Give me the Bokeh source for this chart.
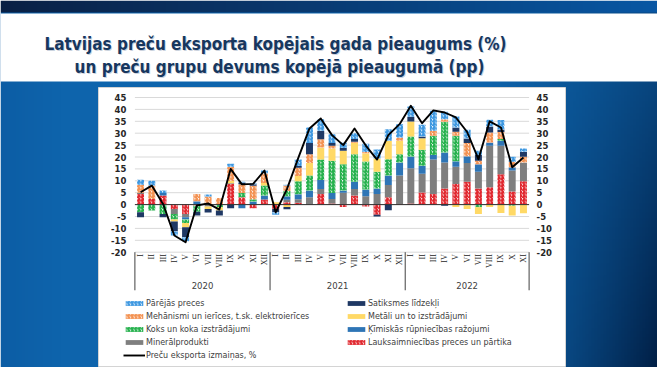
import numpy as np
from bokeh.plotting import figure
from bokeh.models import Range1d, Legend, LegendItem
from bokeh.core.properties import value
from bokeh.embed import file_html
from bokeh.resources import INLINE

# ---------------- data ----------------
years = ["2020", "2021", "2022"]
months_per_year = [12, 12, 11]
roman = ["I", "II", "III", "IV", "V", "VI", "VII", "VIII", "IX", "X", "XI", "XII"]

# contributions (pp), bottom-up stacking order
lauks = [4.5, 2.4, 3.8, -1.8, -3.9, -0.5, 0, 0, 8.7, 3.1, -1.5, 2.1,
         -1.8, 1.0, 0.8, 0, 4.5, 0.5, -1.0, 3.8, -0.8, -4.3, 3.1, 0.3,
         0.5, 5.1, 4.5, 6.8, 8.7, 9.6, 6.8, 7.3, 12.8, 5.5, 9.8]
miner = [0.5, 0, 0, -2.1, -1.4, 0, -0.8, 0, 0.3, 0, 0, 0,
         0, 1.0, 1.4, 3.1, 2.1, 1.9, 5.0, 2.8, 3.5, 4.5, 5.1, 11.9,
         14.8, 7.9, 14.4, 10.9, 7.2, 7.9, 7.0, 17.4, 11.9, 8.8, 7.9]
kim = [0, 0, 1.1, 0, -1.0, 1.4, 0, 0, 0, -1.5, 1.3, 1.7,
       0, 1.5, 2.1, 2.8, 3.7, 2.5, 0.9, 3.0, 2.8, 2.3, 4.0, 5.5,
       4.9, 3.3, 1.9, 4.2, 2.3, 2.8, 3.2, 1.4, 2.1, 1.4, 0]
koks = [-3.2, -2.5, -3.9, -2.4, -1.4, -2.5, 0, -1.1, 0, 1.8, 1.0, 4.2,
        0, 2.2, 5.5, 6.3, 8.6, 13.5, 11.1, 11.6, 11.8, 7.0, 6.9, 3.5,
        8.4, 6.7, 8.1, 12.9, 10.7, -0.3, -1.1, 0, 0.8, -0.5, 0]
metali = [0, 0, 0, -0.8, -1.8, 0, -1.0, -1.4, 0.9, 0, 0, 1.1,
          1.0, -1.0, 2.2, 5.3, 5.1, 5.2, 5.6, 4.8, 3.5, 5.6, 7.7, 5.6,
          6.3, 4.9, 0, 0, -1.0, -1.6, -2.8, -1.0, -3.5, -4.1, -3.6]
mehan = [3.3, 5.6, 0, 0, 0, 3.1, 3.4, 2.8, 6.0, 3.6, 5.6, 4.1,
         0, 2.3, 3.5, 3.7, 3.5, 1.1, 0, 0.4, 0.5, 0, 0, 1.4,
         0, 0, 2.1, 1.1, 1.7, 5.6, 1.4, 4.2, 2.9, 2.3, 2.4]
satik = [-2.1, 0, -1.4, -4.2, -4.2, -1.6, -1.5, -2.1, -1.5, 0.8, 0.7, 0,
         -1.4, -1.0, 0.7, 4.7, 3.5, 1.2, 1.2, 1.2, 0, -0.7, -2.4, 0,
         2.0, 0.7, 0, -0.5, 1.8, 1.9, 2.4, 2.5, 1.1, 0, 2.1]
parejas = [2.1, 2.0, 1.0, -1.7, -1.7, 0, 0.8, 0, 1.3, 0.3, 0.4, 1.1,
           -1.1, 0.3, 2.8, 6.5, 4.9, 3.7, 2.2, 2.4, 3.5, 3.8, 4.9, 5.6,
           4.3, 4.9, 8.4, 3.1, 4.6, 3.7, 1.8, 2.8, 3.9, 2.1, 1.4]
# total export growth, %
total = [5.2, 8.0, 0.3, -13.0, -15.8, -0.4, 0.5, -2.1, 15.0, 8.5, 8.7, 14.3,
         -3.2, 6.5, 19.5, 32.0, 36.2, 29.2, 25.0, 32.0, 24.8, 18.9, 29.2, 33.8,
         41.5, 34.2, 39.6, 38.7, 36.6, 30.5, 19.1, 35.0, 32.4, 15.7, 19.8]

y_ticks = [-20, -15, -10, -5, 0, 5, 10, 15, 20, 25, 30, 35, 40, 45]

names = {
    "parejas": "Pārējās preces",
    "satik": "Satiksmes līdzekļi",
    "mehan": "Mehānismi un ierīces, t.sk. elektroierīces",
    "metali": "Metāli un to izstrādājumi",
    "koks": "Koks un koka izstrādājumi",
    "kim": "Ķīmiskās rūpniecības ražojumi",
    "miner": "Minerālprodukti",
    "lauks": "Lauksaimniecības preces un pārtika",
    "total": "Preču eksporta izmaiņas, %",
}
title1 = "Latvijas preču eksporta kopējais gada pieaugums (%)"
title2 = "un preču grupu devums kopējā pieaugumā (pp)"

# ---------------- layout helpers ----------------
W, H = 657, 367


def fx(px):
    return px


def fy(py):
    return H - py


month_labels, year_index = [], []
for yi, cnt in enumerate(months_per_year):
    month_labels += roman[:cnt]
    year_index += [yi] * cnt
n = len(month_labels)
idx = np.arange(n)

PL, PR = fx(134.4), fx(528.6)
slot = (PR - PL) / n
K = 2.38
zero_b = fy(204.1)

p = figure(width=W, height=H, x_range=Range1d(0, W), y_range=Range1d(0, H),
           x_axis_type=None, y_axis_type=None, toolbar_location=None,
           output_backend="svg", min_border=0)
p.outline_line_color = None
p.extra_x_ranges = {"m": Range1d(-0.5 - PL / slot, -0.5 + (W - PL) / slot)}
p.extra_y_ranges = {"v": Range1d(-zero_b / K, (H - zero_b) / K)}

# ---------------- background ----------------
GW, GH = 219, 123
cx = (np.arange(GW) + 0.5) * W / GW
cy = (np.arange(GH) + 0.5) * H / GH
X, Y = np.meshgrid(cx, cy)
C1 = np.array([14, 100, 172.0])
CD = np.array([0, 26, 62.0])
CL = np.array([9, 78, 148.0])
tr = np.clip((X - 470) / 195, 0, 1) ** 1.3 * (0.45 + 0.55 * np.clip((Y - 81) / 294, 0, 1))
tl = np.clip((60 - X) / 60, 0, 1) * 0.3
rgb = C1 * (1 - tr[..., None]) + CD * tr[..., None]
rgb = rgb * (1 - tl[..., None]) + CL * tl[..., None]
tt = np.clip(X / 665, 0, 1)
top_rgb = np.array([10, 32, 68.0]) * (1 - tt[..., None]) + np.array([8, 88, 165.0]) * tt[..., None]
mask = Y < 13
rgb[mask] = top_rgb[mask]
img = np.empty((GH, GW), dtype=np.uint32)
view = img.view(dtype=np.uint8).reshape((GH, GW, 4))
view[..., :3] = rgb.astype(np.uint8)
view[..., 3] = 255
img = np.ascontiguousarray(np.flipud(img))
p.image_rgba(image=[img], x=0, y=0, dw=W, dh=H, level="image")

# title band and chart box
p.quad(left=0, right=W, bottom=fy(81), top=fy(13), fill_color="white", line_color=None)
p.quad(left=fx(98), right=fx(565), bottom=fy(366), top=fy(87),
       fill_color="white", line_color="#d4d4d4", line_width=1)

# title (with a faint shadow)
for dx, dy, col, alpha in [(1, 1.5, "#8a9bb5", 0.45), (0, 0, "#17375E", 1.0)]:
    p.text(x=[fx(275) + dx, fx(279) + dx], y=[fy(43.3) - dy, fy(66) - dy], text=[title1, title2],
           text_align="center", text_baseline="alphabetic",
           text_font=value("DejaVu Sans Condensed"), text_font_style="bold",
           text_font_size="17px", text_color=col, text_alpha=alpha)

# ---------------- grid ----------------
p.segment(x0=-0.5, x1=n - 0.5, y0=y_ticks, y1=y_ticks, line_color="#d9d9d9",
          line_width=1, x_range_name="m", y_range_name="v")

# ---------------- stacked bars ----------------
order = [("lauks", lauks, "#E0242B", True),
         ("miner", miner, "#7F7F7F", False),
         ("kim", kim, "#2E75B6", False),
         ("koks", koks, "#22B04A", True),
         ("metali", metali, "#FFD966", False),
         ("mehan", mehan, "#F3904F", True),
         ("satik", satik, "#1F3864", False),
         ("parejas", parejas, "#3A96E0", True)]

pos = np.zeros(n)
neg = np.zeros(n)
rends = {}
for key, vals, col, hatched in order:
    v = np.array(vals, dtype=float)
    bottom = np.where(v >= 0, pos, neg)
    top = bottom + v
    pos = np.where(v >= 0, top, pos)
    neg = np.where(v < 0, top, neg)
    if hatched:
        r = p.vbar(x=idx, width=0.62, bottom=bottom, top=top, fill_color="white",
                   hatch_pattern="/", hatch_color=col, hatch_scale=3.6, hatch_weight=1.6,
                   line_color=None, x_range_name="m", y_range_name="v")
    else:
        r = p.vbar(x=idx, width=0.62, bottom=bottom, top=top, fill_color=col,
                   line_color=None, x_range_name="m", y_range_name="v")
    rends[key] = r

# zero line
p.segment(x0=[-0.5], x1=[n - 0.5], y0=[0], y1=[0], line_color="#303030", line_width=1,
          x_range_name="m", y_range_name="v")

# total line
rends["total"] = p.line(x=idx, y=total, line_color="black", line_width=1.9,
                        line_join="round", x_range_name="m", y_range_name="v")

# ---------------- axis texts ----------------
tick_txt = [str(t) for t in y_ticks]
p.text(x=[-0.5] * len(y_ticks), y=y_ticks, text=tick_txt, x_offset=-8.5,
       text_align="right", text_baseline="middle", text_font=value("DejaVu Sans"),
       text_font_style="bold", text_font_size="8.5px", text_color="#262626",
       x_range_name="m", y_range_name="v")
p.text(x=[n - 0.5] * len(y_ticks), y=y_ticks, text=tick_txt, x_offset=7.5,
       text_align="left", text_baseline="middle", text_font=value("DejaVu Sans"),
       text_font_style="bold", text_font_size="8.5px", text_color="#262626",
       x_range_name="m", y_range_name="v")

p.text(x=idx, y=[y_ticks[0]] * n, text=month_labels, angle=np.pi / 2, y_offset=2,
       text_align="right", text_baseline="middle", text_font=value("Liberation Serif"),
       text_font_size="8px", text_color="#262626", x_range_name="m", y_range_name="v")

yi_arr = np.array(year_index)
centers = [float(idx[yi_arr == i].mean()) for i in range(len(years))]
p.text(x=centers, y=[y_ticks[0]] * len(years), text=years, y_offset=33,
       text_align="center", text_baseline="middle", text_font=value("DejaVu Sans"),
       text_font_size="8.5px", text_color="#404040", x_range_name="m", y_range_name="v")

bounds = list(np.concatenate([[-0.5], np.cumsum(months_per_year) - 0.5]))
p.segment(x0=bounds, x1=bounds, y0=[y_ticks[0]] * len(bounds), y1=[y_ticks[0] - 16] * len(bounds),
          line_color="#404040", line_width=1, x_range_name="m", y_range_name="v")

# ---------------- legends ----------------
def make_legend(keys, loc):
    items = [LegendItem(label=names[k], renderers=[rends[k]]) for k in keys]
    return Legend(items=items, location=loc, orientation="vertical",
                  label_text_font="DejaVu Sans", label_text_font_size="8px",
                  label_text_color="#404040", glyph_width=22, glyph_height=6,
                  label_height=10, label_standoff=1, spacing=3, padding=0, margin=0,
                  border_line_color=None, background_fill_alpha=0)


# legend locations: (left, bottom) in screen px from the frame's bottom-left
p.add_layout(make_legend(["parejas", "mehan", "koks", "miner", "total"], (123, 7)))
p.add_layout(make_legend(["satik", "metali", "kim", "lauks"], (345, 20)))

open("out.html", "w").write(file_html(p, INLINE))
